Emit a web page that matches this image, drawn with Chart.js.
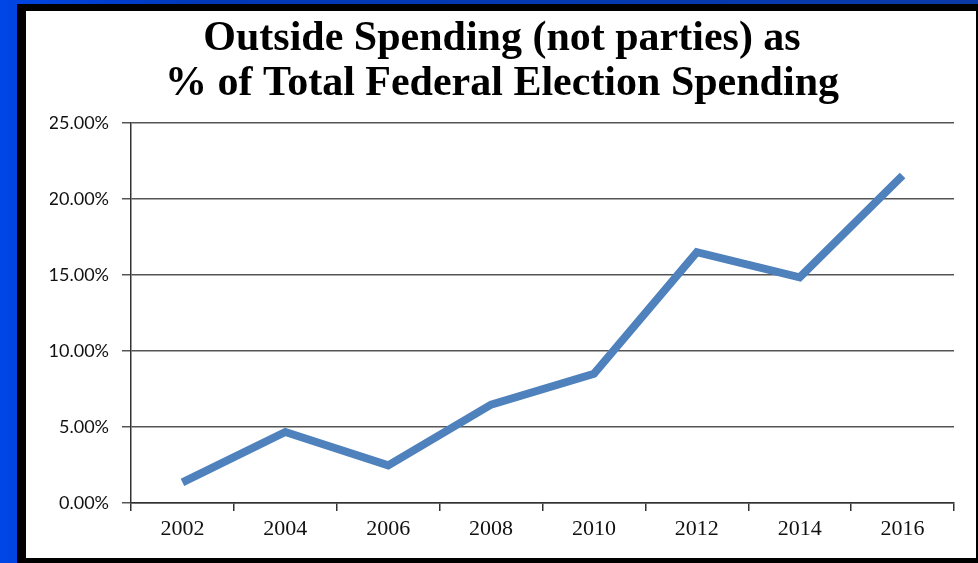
<!DOCTYPE html>
<html>
<head>
<meta charset="utf-8">
<script src="https://cdn.jsdelivr.net/npm/chart.js@4/dist/chart.umd.min.js"></script>
<style>
  html, body { margin: 0; padding: 0; }
  body {
    width: 978px; height: 563px; overflow: hidden; position: relative;
    background: linear-gradient(to right, #0046e6 0px, #0038b8 200px, #0a3aa8 978px);
  }
  #frame {
    position: absolute; left: 17px; top: 4px; width: 961px; height: 559px;
    background: #000;
  }
  #panel {
    position: absolute; left: 9px; top: 7px; width: 950px; height: 547px;
    background: #fff;
  }
  canvas { display: block; }
</style>
</head>
<body>
<div id="frame"><div id="panel"><canvas id="chart" width="950" height="547"></canvas></div></div>
<script>
var years = ["2002", "2004", "2006", "2008", "2010", "2012", "2014", "2016"];
var outsideShare = [1.36, 4.67, 2.47, 6.47, 8.49, 16.49, 14.84, 21.53];
var yTicks = [0, 5, 10, 15, 20, 25];
var titleLines = ["Outside Spending (not parties) as", "% of Total Federal Election Spending"];

const ctx = document.getElementById("chart").getContext("2d");
const spendingChart = new Chart(ctx, {
  type: "line",
  data: {
    labels: years,
    datasets: [
      {
        label: "Outside spending",
        data: outsideShare,
        borderColor: "#4f81bd",
        backgroundColor: "#4f81bd",
        borderWidth: 8,
        pointRadius: 0,
        tension: 0,
        borderCapStyle: "butt",
      },
    ],
  },
  options: {
    responsive: false,
    animation: false,
    // left padding pushes the title centre right, axis width makes up for it
    layout: { padding: { left: 24, right: 22, top: 5, bottom: 0 } },
    plugins: {
      legend: { display: false },
      tooltip: { enabled: false },
      title: {
        display: true,
        text: titleLines,
        color: "#000",
        font: { family: "'Liberation Serif', serif", size: 42, weight: "bold", lineHeight: 1.08 },
        padding: { top: 0, bottom: 16 },
      },
    },
    scales: {
      x: {
        offset: true,
        grid: {
          offset: true,
          drawOnChartArea: false,
          drawTicks: true,
          tickLength: 8,
          color: "#333",
          lineWidth: 1.5,
        },
        border: { display: true, color: "#333", width: 1.5 },
        ticks: {
          color: "#111",
          padding: 5,
          font: { family: "'Liberation Serif', serif", size: 22 },
        },
        afterFit: (scale) => { scale.height = 55; },
      },
      y: {
        min: 0,
        max: 25,
        afterBuildTicks: (scale) => { scale.ticks = yTicks.map((v) => ({ value: v })); },
        grid: {
          color: "#555",
          lineWidth: 1.5,
          drawTicks: true,
          tickLength: 9,
        },
        border: { display: true, color: "#333", width: 1.5 },
        ticks: {
          color: "#111",
          padding: 13,
          font: { family: "Lato, sans-serif", size: 18 },
          callback: (v) => v.toFixed(2) + "%",
        },
        afterFit: (scale) => { scale.width = 81; },
      },
    },
  },
});
</script>
</body>
</html>
